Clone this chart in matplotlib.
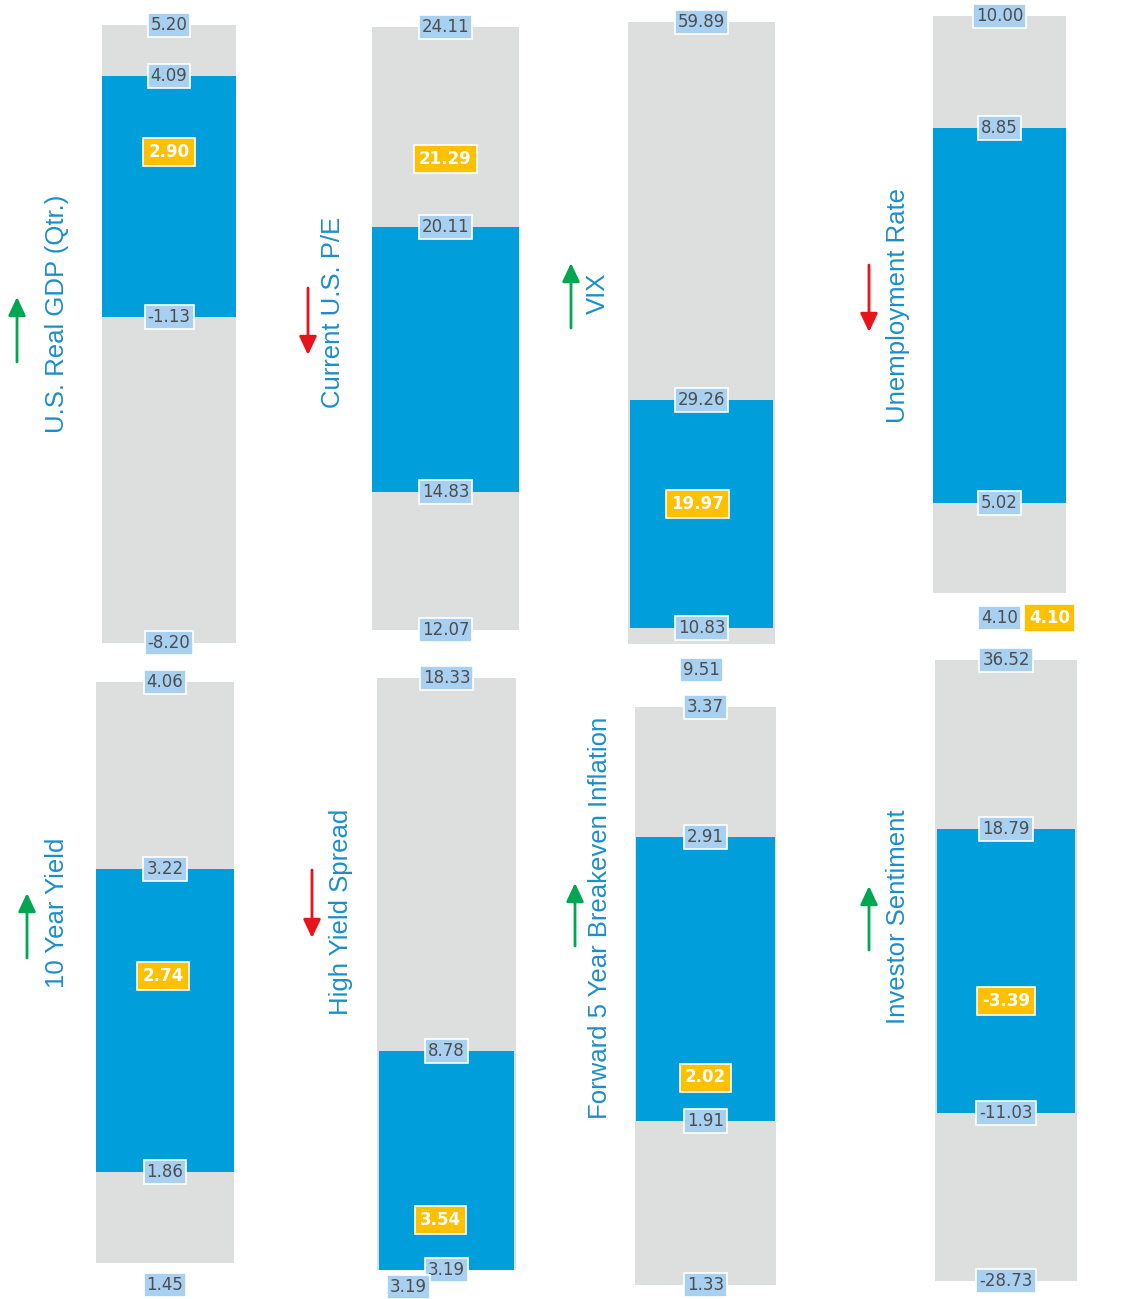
import matplotlib
matplotlib.use("Agg")
import matplotlib.pyplot as plt
from matplotlib.patches import FancyArrowPatch

# ---- data ----
titles = ["U.S. Real GDP (Qtr.)", "Current U.S. P/E", "VIX", "Unemployment Rate",
          "10 Year Yield", "High Yield Spread", "Forward 5 Year Breakeven Inflation",
          "Investor Sentiment"]
range_max = [5.20, 24.11, 59.89, 10.00, 4.06, 18.33, 3.37, 36.52]
range_min = [-8.20, 12.07, 9.51, 4.10, 1.45, 3.19, 1.33, -28.73]
band_high = [4.09, 20.11, 29.26, 8.85, 3.22, 8.78, 2.91, 18.79]
band_low = [-1.13, 14.83, 10.83, 5.02, 1.86, 3.19, 1.91, -11.03]
current = [2.90, 21.29, 19.97, 4.10, 2.74, 3.54, 2.02, -3.39]
arrow_up = [True, False, True, False, True, False, True, True]

# ---- layout (pixels of a 1127x1299 canvas) ----
W, H = 1127, 1299
bar_px = [(102, 236, 25, 643), (372, 519, 27, 630), (628, 775, 22, 644), (933, 1066, 16, 593),
          (96, 234, 682, 1263), (377, 516, 678, 1270), (635, 776, 707, 1285), (935, 1077, 660, 1281)]
blue_inset = [0, 0, 2, 0, 0, 2, 1, 2]
title_px = [(57, 314), (333, 312), (598, 293), (898, 305),
            (57, 913), (341, 912), (600, 918), (898, 917)]
arrow_px = [(17, 297, 362), (308, 288, 355), (571, 263, 328), (869, 265, 332),
            (27, 893, 958), (312, 870, 938), (575, 883, 946), (869, 886, 950)]
# label offsets (dx, dy in pixels) for the min label and the current label
min_off = [(0, 0), (0, 0), (0, -26), (0, -25), (0, -22), (-38, -17), (0, 0), (0, 0)]
cur_off = [(0, -21), (0, 9), (-4, 11), (50, -25), (-2, 0), (-6, 36), (0, 12), (0, 39)]

GRAY = "#DDDEDE"
BLUE = "#009FDB"
LBL = "#A8D0F0"
ORANGE = "#FFC000"
TXT = "#4D4D4D"
TITLE = "#1B8FCB"

plt.rcParams["font.family"] = ["DejaVu Sans"]
fig = plt.figure(figsize=(W / 100, H / 100), dpi=100)


def val_label(ax, y, text, dx=0, dy=0, cur=False):
    if cur:
        ax.annotate(text, xy=(0.5, y), xytext=(dx * 0.72, dy * 0.72), textcoords="offset points",
                    ha="center", va="center", fontsize=12, color="white", fontweight="bold",
                    bbox=dict(boxstyle="square,pad=0.3", fc=ORANGE, ec="white", lw=1.2),
                    annotation_clip=False, zorder=6)
    else:
        ax.annotate(text, xy=(0.5, y), xytext=(dx * 0.72, dy * 0.72), textcoords="offset points",
                    ha="center", va="center", fontsize=12, color=TXT,
                    bbox=dict(boxstyle="square,pad=0.18", fc=LBL, ec="white", lw=1.2),
                    annotation_clip=False, zorder=5)


for i in range(8):
    x0, x1, yt, yb = bar_px[i]
    ax = fig.add_axes([x0 / W, 1 - yb / H, (x1 - x0) / W, (yb - yt) / H])
    ax.set_xlim(0, 1)
    ax.set_ylim(range_min[i], range_max[i])
    ax.axis("off")
    ax.bar(0.5, range_max[i] - range_min[i], bottom=range_min[i], width=1.0, color=GRAY, zorder=1)
    bw = 1.0 - 2 * blue_inset[i] / (x1 - x0)
    ax.bar(0.5, band_high[i] - band_low[i], bottom=band_low[i], width=bw, color=BLUE, zorder=2)

    val_label(ax, range_max[i], f"{range_max[i]:.2f}")
    val_label(ax, band_high[i], f"{band_high[i]:.2f}")
    val_label(ax, band_low[i], f"{band_low[i]:.2f}")
    val_label(ax, range_min[i], f"{range_min[i]:.2f}", *min_off[i])
    val_label(ax, current[i], f"{current[i]:.2f}", *cur_off[i], cur=True)

    tx, ty = title_px[i]
    fig.text(tx / W, 1 - ty / H, titles[i], rotation=90, ha="center", va="center",
             fontsize=18.5, color=TITLE, family="Liberation Sans")

    ax_, a0, a1 = arrow_px[i]
    if arrow_up[i]:
        p0, p1, col = (ax_ / W, 1 - a1 / H), (ax_ / W, 1 - a0 / H), "#00A651"
    else:
        p0, p1, col = (ax_ / W, 1 - a0 / H), (ax_ / W, 1 - a1 / H), "#E8141B"
    fig.add_artist(FancyArrowPatch(p0, p1, transform=fig.transFigure,
                                   arrowstyle="-|>,head_length=7,head_width=3.3",
                                   mutation_scale=1.6, color=col, lw=2, shrinkA=0, shrinkB=0))

fig.savefig("out.png", dpi=100, facecolor="white")
